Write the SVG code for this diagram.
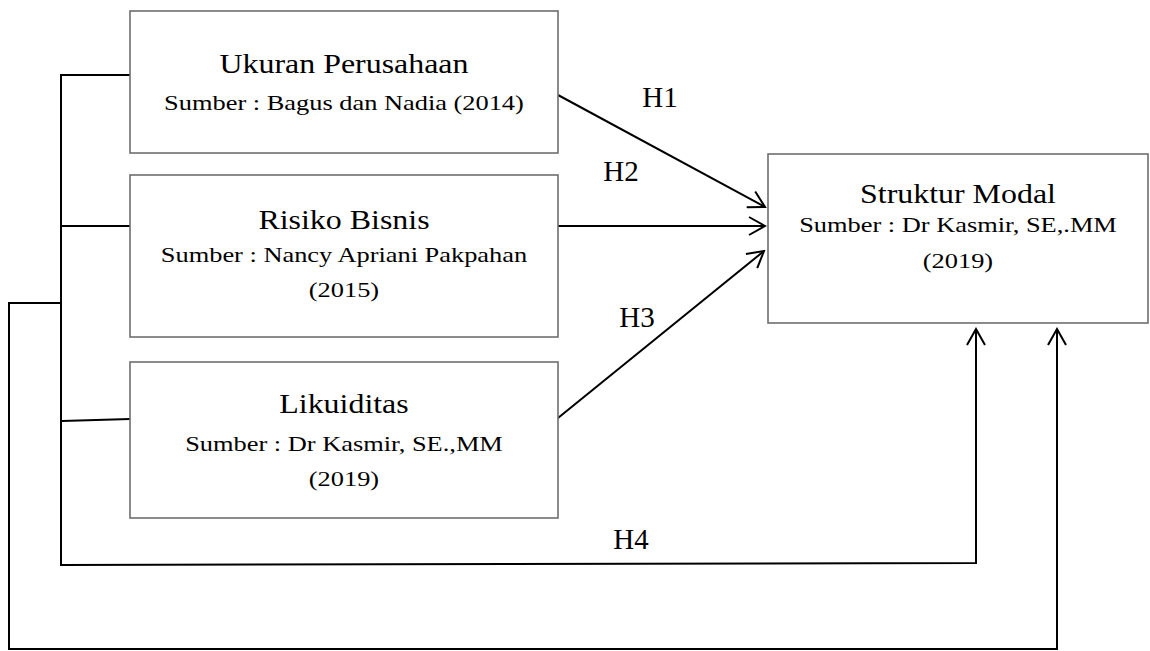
<svg xmlns="http://www.w3.org/2000/svg" width="1150" height="651" viewBox="0 0 1150 651">
<style>
.box{fill:#fff;stroke:#6e6e6e;stroke-width:1.6}
.ln{fill:none;stroke:#000;stroke-width:2}
text{font-family:"Liberation Serif","Times New Roman",serif;fill:#000;text-anchor:middle}
.tt{font-size:28px;transform-box:fill-box;transform-origin:center;transform:scaleX(1.14)}
.st{font-size:22px;transform-box:fill-box;transform-origin:center;transform:scaleX(1.2)}
.lb{font-size:29px}
</style>
<defs>
<marker id="ah" viewBox="0 0 20 20" refX="18" refY="10" markerWidth="20" markerHeight="20" markerUnits="userSpaceOnUse" orient="auto">
<path d="M2,1 L18,10 L2,19" fill="none" stroke="#000" stroke-width="2"/>
</marker>
</defs>
<rect width="1150" height="651" fill="#fff"/>
<g id="connectors">
<path class="ln" d="M130,75 L61,75 L61,565 L976,563 L976,329" marker-end="url(#ah)"/>
<path class="ln" d="M61,226 L130,226"/>
<path class="ln" d="M62,421 L130,419"/>
<path class="ln" d="M61,303 L9,303 L9,649 L1057,649 L1057,329" marker-end="url(#ah)"/>
<path class="ln" d="M558,95 L765,207" marker-end="url(#ah)"/>
<path class="ln" d="M558,226 L765,226" marker-end="url(#ah)"/>
<path class="ln" d="M558,418 L764,251" marker-end="url(#ah)"/>
<text class="lb" x="660" y="107">H1</text>
<text class="lb" x="621" y="181">H2</text>
<text class="lb" x="637" y="327">H3</text>
<text class="lb" x="631" y="549">H4</text>
</g>
<g id="ukuran">
<rect class="box" x="130" y="11" width="428" height="142"/>
<text class="tt" x="344" y="73">Ukuran Perusahaan</text>
<text class="st" x="344" y="110">Sumber : Bagus dan Nadia (2014)</text>
</g>
<g id="risiko">
<rect class="box" x="130" y="175" width="428" height="162"/>
<text class="tt" x="344" y="229">Risiko Bisnis</text>
<text class="st" x="344" y="262">Sumber : Nancy Apriani Pakpahan</text>
<text class="st" x="344" y="297">(2015)</text>
</g>
<g id="likuiditas">
<rect class="box" x="130" y="362" width="428" height="156"/>
<text class="tt" x="344" y="413">Likuiditas</text>
<text class="st" x="344" y="451">Sumber : Dr Kasmir, SE.,MM</text>
<text class="st" x="344" y="486">(2019)</text>
</g>
<g id="struktur">
<rect class="box" x="768" y="154" width="380" height="169"/>
<text class="tt" x="958" y="203">Struktur Modal</text>
<text class="st" x="958" y="232">Sumber : Dr Kasmir, SE,.MM</text>
<text class="st" x="958" y="268">(2019)</text>
</g>
</svg>
